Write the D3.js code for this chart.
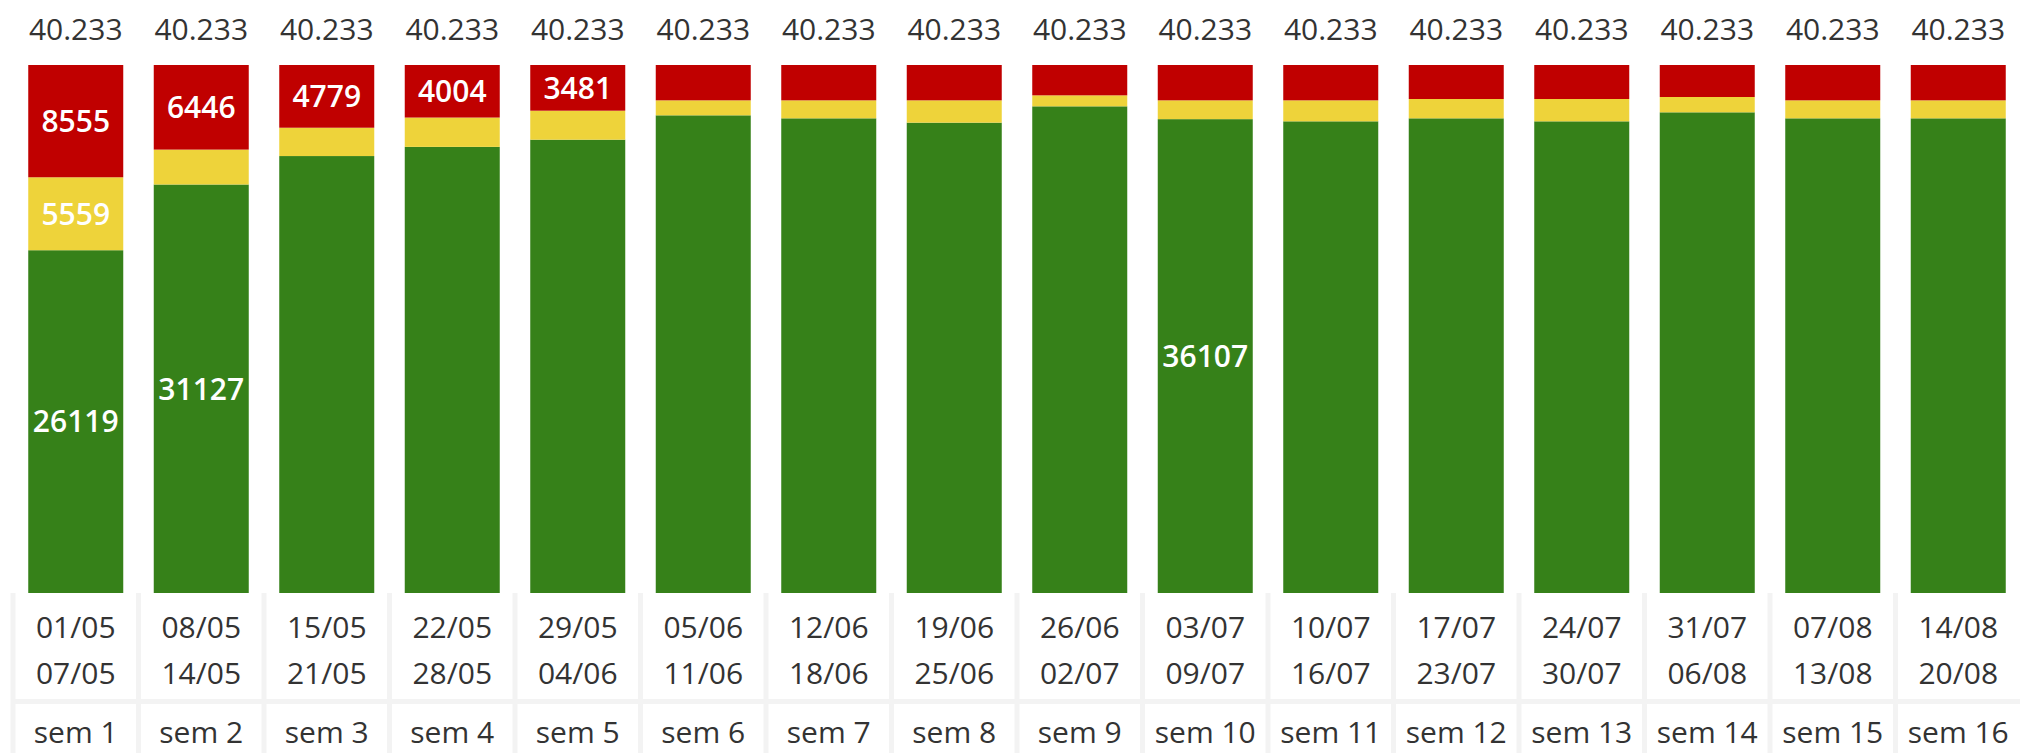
<!DOCTYPE html>
<html>
<head>
<meta charset="utf-8">
<script src="https://cdn.jsdelivr.net/npm/d3@7"></script>
<style>
  body { margin: 0; background: #fff; }
  svg { display: block; }
</style>
</head>
<body>
<div id="chart"></div>
<script>
const svgWidth = 2020;
const svgHeight = 753;

// data
const weeks = ["sem 1", "sem 2", "sem 3", "sem 4", "sem 5", "sem 6", "sem 7", "sem 8",
               "sem 9", "sem 10", "sem 11", "sem 12", "sem 13", "sem 14", "sem 15", "sem 16"];
const startDates = ["01/05", "08/05", "15/05", "22/05", "29/05", "05/06", "12/06", "19/06",
                    "26/06", "03/07", "10/07", "17/07", "24/07", "31/07", "07/08", "14/08"];
const endDates = ["07/05", "14/05", "21/05", "28/05", "04/06", "11/06", "18/06", "25/06",
                  "02/07", "09/07", "16/07", "23/07", "30/07", "06/08", "13/08", "20/08"];
const green = [26119, 31127, 33295, 33994, 34542, 36398, 36169, 35839,
               37083, 36107, 35941, 36169, 35940, 36627, 36169, 36169];
const yellow = [5559, 2660, 2159, 2235, 2210, 1143, 1372, 1702,
                838, 1434, 1600, 1473, 1702, 1168, 1372, 1372];
const red = [8555, 6446, 4779, 4004, 3481, 2692, 2692, 2692,
             2312, 2692, 2692, 2591, 2591, 2438, 2692, 2692];
// which segments carry a visible value label (bar indexes)
const labelledGreen = [0, 1, 9];
const labelledYellow = [0];
const labelledRed = [0, 1, 2, 3, 4];

const colors = {green: "#368119", yellow: "#EED33A", red: "#C00000"};
const fontFamily = "'Open Sans', 'Noto Sans', sans-serif";

const rows = weeks.map((w, i) => ({week: w, green: green[i], yellow: yellow[i], red: red[i]}));
const keys = ["green", "yellow", "red"];
const labelled = {green: labelledGreen, yellow: labelledYellow, red: labelledRed};

const fmt = d3.formatLocale({decimal: ",", thousands: ".", grouping: [3], currency: ["", ""]}).format(",d");

const plotTop = 65, plotBottom = 593;

const x = d3.scaleBand()
    .domain(weeks)
    .range([13, 2021])
    .paddingInner(0.243)
    .paddingOuter(0.1215);

const xCol = d3.scaleBand()
    .domain(weeks)
    .range([13, 2021]);

const y = d3.scaleLinear()
    .domain([0, d3.max(rows, d => d.green + d.yellow + d.red)])
    .range([plotBottom, plotTop]);

const series = d3.stack().keys(keys)(rows);

const svg = d3.select("#chart")
    .append("svg")
    .attr("width", svgWidth)
    .attr("height", svgHeight);

// stacked bars
const layer = svg.selectAll("g.layer")
    .data(series)
    .join("g")
    .attr("class", "layer")
    .attr("fill", s => colors[s.key]);

layer.selectAll("rect")
    .data(s => s)
    .join("rect")
    .attr("x", d => x(d.data.week))
    .attr("width", x.bandwidth())
    .attr("y", d => y(d[1]))
    .attr("height", d => y(d[0]) - y(d[1]));

// value labels inside segments
layer.selectAll("text")
    .data(s => s.map((d, i) => ({d, i, key: s.key})).filter(o => labelled[o.key].includes(o.i)))
    .join("text")
    .attr("x", o => x(o.d.data.week) + x.bandwidth() / 2)
    .attr("y", o => (y(o.d[0]) + y(o.d[1])) / 2)
    .attr("dy", "0.36em")
    .attr("text-anchor", "middle")
    .attr("font-family", fontFamily)
    .attr("font-size", "30px")
    .attr("font-weight", "600")
    .attr("fill", "#fff")
    .text(o => o.d.data[o.key]);

// totals above the bars
svg.append("g")
    .selectAll("text")
    .data(rows)
    .join("text")
    .attr("x", d => x(d.week) + x.bandwidth() / 2)
    .attr("y", 40)
    .attr("text-anchor", "middle")
    .attr("font-family", fontFamily)
    .attr("font-size", "30px")
    .attr("fill", "#333")
    .text(d => fmt(d.green + d.yellow + d.red));

// table below: column separators and row separator
const table = svg.append("g");

table.append("rect")
    .attr("x", 13)
    .attr("y", 699)
    .attr("width", 2008)
    .attr("height", 5)
    .attr("fill", "#f3f3f3");

table.selectAll("rect.sep")
    .data(weeks)
    .join("rect")
    .attr("class", "sep")
    .attr("x", d => xCol(d) - 2.5)
    .attr("y", plotBottom)
    .attr("width", 5)
    .attr("height", svgHeight - plotBottom)
    .attr("fill", "#f3f3f3");

const cell = table.selectAll("g.cell")
    .data(weeks.map((w, i) => ({week: w, start: startDates[i], end: endDates[i]})))
    .join("g")
    .attr("class", "cell")
    .attr("transform", d => `translate(${xCol(d.week) + xCol.bandwidth() / 2},0)`)
    .attr("font-family", fontFamily)
    .attr("font-size", "30px")
    .attr("fill", "#333")
    .attr("text-anchor", "middle");

cell.append("text").attr("y", 638).text(d => d.start);
cell.append("text").attr("y", 684).text(d => d.end);
cell.append("text").attr("y", 743).text(d => d.week);
</script>
</body>
</html>
